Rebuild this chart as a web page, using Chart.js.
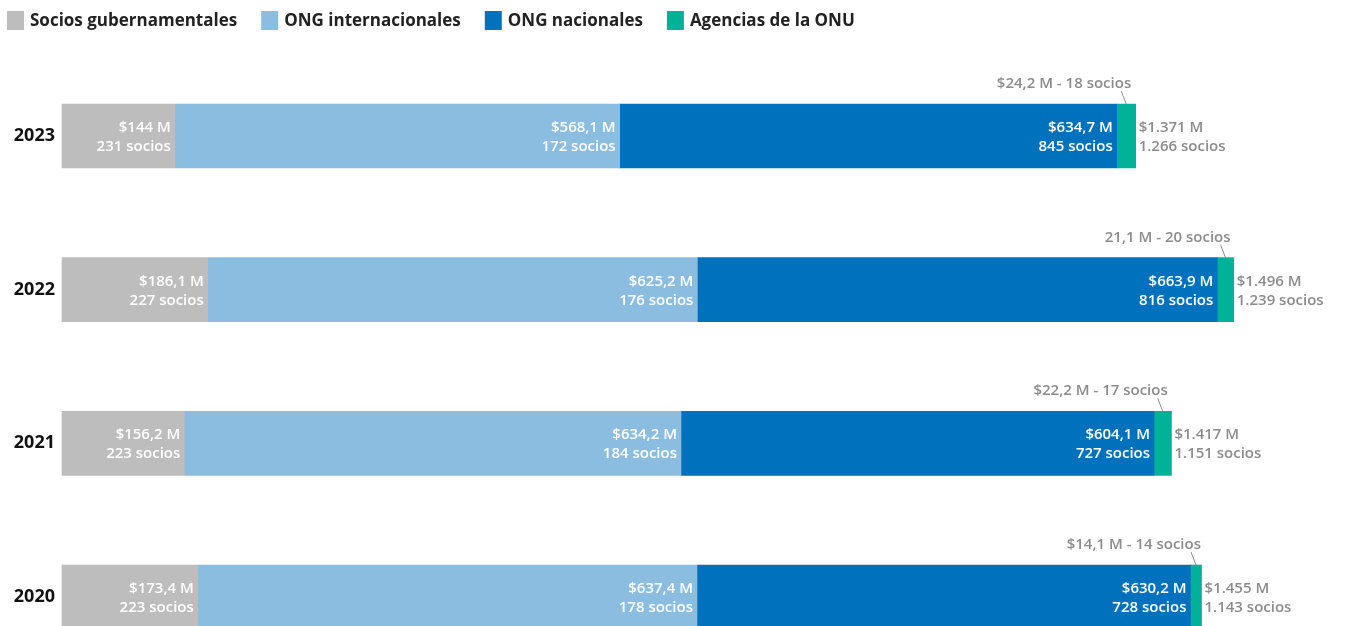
<!DOCTYPE html>
<html>
<head>
<meta charset="utf-8">
<script src="https://cdn.jsdelivr.net/npm/chart.js@4"></script>
<style>
  html, body { margin: 0; padding: 0; background: #ffffff; }
  #wrap { width: 1345px; height: 626px; position: relative; }
</style>
</head>
<body>
<div id="wrap"><canvas id="c" width="1345" height="626"></canvas></div>
<script>
// ---- Data ----
const years = ['2023', '2022', '2021', '2020'];
const seriesNames = ['Socios gubernamentales', 'ONG internacionales', 'ONG nacionales', 'Agencias de la ONU'];
const gobierno = [144, 186.1, 156.2, 173.4];
const ongInternacionales = [568.1, 625.2, 634.2, 637.4];
const ongNacionales = [634.7, 663.9, 604.1, 630.2];
const agenciasOnu = [24.2, 21.1, 22.2, 14.1];
const sociosGobierno = [231, 227, 223, 223];
const sociosOngInt = [172, 176, 184, 178];
const sociosOngNac = [845, 816, 727, 728];
const sociosOnu = [18, 20, 17, 14];
const onuLabels = ['$24,2 M - 18 socios', '21,1 M - 20 socios', '$22,2 M - 17 socios', '$14,1 M - 14 socios'];

const colors = ['#bdbdbd', '#8bbde0', '#0071bc', '#00b398'];
const FONT = '"Open Sans", "Lato", sans-serif';

function fmtNum(v, dec) {
  let s = v.toFixed(dec);
  let [ip, dp] = s.split('.');
  ip = ip.replace(/\B(?=(\d{3})+(?!\d))/g, '.');
  return dp ? ip + ',' + dp : ip;
}
function money(v) {
  const dec = Number.isInteger(v) ? 0 : 1;
  return '$' + fmtNum(v, dec) + ' M';
}

const valuesList = [gobierno, ongInternacionales, ongNacionales, agenciasOnu];
const sociosList = [sociosGobierno, sociosOngInt, sociosOngNac, sociosOnu];

const labelPlugin = {
  id: 'customLabels',
  afterDatasetsDraw(chart) {
    const ctx = chart.ctx;
    ctx.save();
    ctx.textBaseline = 'alphabetic';
    // in-bar labels
    ctx.font = '600 15px ' + FONT;
    ctx.fillStyle = '#ffffff';
    ctx.textAlign = 'right';
    for (let d = 0; d < 3; d++) {
      const meta = chart.getDatasetMeta(d);
      meta.data.forEach((bar, i) => {
        ctx.fillText(money(valuesList[d][i]), bar.x - 4, bar.y - 4);
        ctx.fillText(sociosList[d][i] + ' socios', bar.x - 4, bar.y + 15);
      });
    }
    // totals and UN labels
    const metaOnu = chart.getDatasetMeta(3);
    metaOnu.data.forEach((bar, i) => {
      let total = 0, totalSocios = 0;
      for (let d = 0; d < 4; d++) { total += valuesList[d][i]; totalSocios += sociosList[d][i]; }
      ctx.fillStyle = '#8c8c8c';
      ctx.textAlign = 'left';
      ctx.fillText('$' + fmtNum(Math.round(total), 0) + ' M', bar.x + 3, bar.y - 4);
      ctx.fillText(fmtNum(totalSocios, 0) + ' socios', bar.x + 3, bar.y + 15);
      const gc = (bar.x + bar.base) / 2;
      const top = bar.y - bar.height / 2;
      ctx.textAlign = 'right';
      ctx.fillText(onuLabels[i], gc + 5, top - 16);
      ctx.strokeStyle = '#8c8c8c';
      ctx.lineWidth = 1;
      ctx.beginPath();
      ctx.moveTo(gc - 5, top - 13);
      ctx.lineTo(gc, top);
      ctx.stroke();
    });
    ctx.restore();
  }
};

const legendPlugin = {
  id: 'customLegend',
  afterDraw(chart) {
    const ctx = chart.ctx;
    ctx.save();
    ctx.font = '700 17px ' + FONT;
    ctx.textBaseline = 'middle';
    ctx.textAlign = 'left';
    let x = 7;
    seriesNames.forEach((name, i) => {
      ctx.fillStyle = colors[i];
      ctx.fillRect(x, 11, 17, 19);
      ctx.fillStyle = '#222222';
      ctx.fillText(name, x + 23, 21);
      x += 23 + ctx.measureText(name).width + 24;
    });
    ctx.restore();
  }
};

const datasets = valuesList.map((vals, d) => ({
  label: seriesNames[d],
  data: vals,
  backgroundColor: colors[d],
  borderWidth: 0,
  barThickness: 64,
  clip: false
}));

new Chart(document.getElementById('c'), {
  type: 'bar',
  data: { labels: years, datasets },
  options: {
    indexAxis: 'y',
    responsive: false,
    animation: false,
    layout: { padding: { top: 136, bottom: 29, left: 0, right: 30 } },
    plugins: {
      legend: { display: false },
      tooltip: { enabled: false }
    },
    scales: {
      x: {
        stacked: true,
        min: 0,
        max: 1600,
        display: false
      },
      y: {
        stacked: true,
        offset: false,
        grid: { display: false, drawTicks: false },
        border: { display: false },
        ticks: {
          padding: 7,
          color: '#111111',
          font: { family: FONT, size: 18, weight: '700' }
        },
        afterFit(scale) { scale.width = 62; }
      }
    }
  },
  plugins: [labelPlugin, legendPlugin]
});
</script>
</body>
</html>
